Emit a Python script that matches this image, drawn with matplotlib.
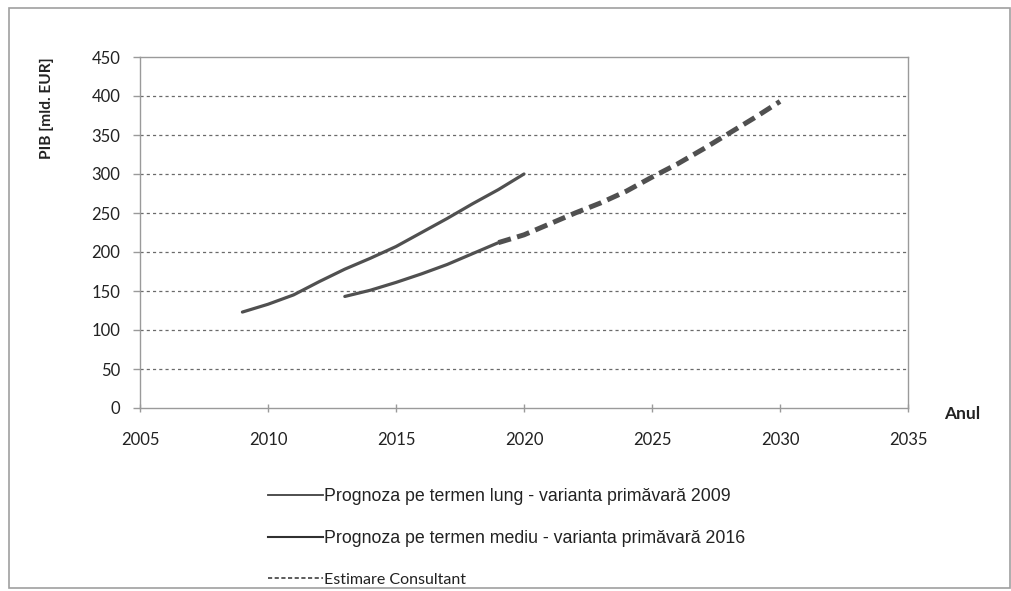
import numpy as np
import matplotlib
matplotlib.use("Agg")
import matplotlib.pyplot as plt
from matplotlib.lines import Line2D
from matplotlib.patches import Rectangle

# GDP forecasts, bn EUR
years_long = [2009, 2010, 2011, 2012, 2013, 2014, 2015, 2016, 2017, 2018, 2019, 2020]
pib_long = [123, 133, 145, 162, 178, 192, 207, 225, 243, 262, 280, 300]

years_mediu = [2013, 2014, 2015, 2016, 2017, 2018, 2019]
pib_mediu = [143, 151, 161, 172, 184, 198, 212]

years_consult = [2019, 2020, 2021, 2022, 2023, 2024, 2025, 2026, 2027, 2028, 2029, 2030]
pib_consult = [212, 222, 236, 250, 263, 278, 296, 313, 332, 352, 372, 393]

legend_labels = [
    "Prognoza pe termen lung - varianta primăvară 2009",
    "Prognoza pe termen mediu - varianta primăvară 2016",
    "Estimare Consultant",
]

x_ticks = [2005, 2010, 2015, 2020, 2025, 2030, 2035]
y_ticks = [0, 50, 100, 150, 200, 250, 300, 350, 400, 450]

W, H = 1012, 591
fig = plt.figure(figsize=(W / 100, H / 100), dpi=100)
ax = fig.add_axes([140 / W, 1 - 408 / H, (908 - 140) / W, (408 - 57) / H])

line_col = "#505050"
ax.plot(years_long, pib_long, color=line_col, lw=2.3, solid_capstyle="round", zorder=5)
ax.plot(years_mediu, pib_mediu, color=line_col, lw=2.3, solid_capstyle="round", zorder=5)
ax.plot(years_consult, pib_consult, color=line_col, lw=3.6, dashes=(2.6, 1.3), zorder=5)

ax.set_xlim(2005, 2035)
ax.set_ylim(0, 450)
ax.set_xticks(x_ticks)
ax.set_yticks(y_ticks)

# dashed horizontal gridlines between the ends
for v in y_ticks[1:-1]:
    ax.axhline(v, color="#6a6a6a", lw=0.9, dashes=(2.5, 2.5), zorder=1)

for s in ax.spines.values():
    s.set_color("#9a9a9a")
    s.set_linewidth(1.0)

ax.tick_params(axis="y", direction="out", length=5, width=1, color="#9a9a9a", pad=9)
ax.tick_params(axis="x", direction="inout", length=6, width=1, color="#9a9a9a", pad=14)
for lbl in ax.get_xticklabels() + ax.get_yticklabels():
    lbl.set_fontfamily("Lato")
    lbl.set_fontsize(12)
    lbl.set_color("#222222")

fig.text(47 / W, 1 - 108 / H, "PIB [mld. EUR]", rotation=90, ha="center", va="center",
         family="Lato", fontweight="bold", fontsize=11.2, color="#222222")
fig.text(962 / W, 1 - 414 / H, "Anul", ha="center", va="center",
         family="Lato", fontweight="bold", fontsize=12.5, color="#222222")

handles = [
    Line2D([], [], color="#404040", lw=1.3),
    Line2D([], [], color="#303030", lw=1.5),
    Line2D([], [], color="#404040", lw=1.2, dashes=(2.5, 1.5)),
]
leg = fig.legend(handles, legend_labels, loc="upper left",
                 bbox_to_anchor=(252 / W, 1 - 472 / H), frameon=False,
                 handlelength=3.1, handletextpad=0.05, labelspacing=1.4,
                 prop=dict(family="Liberation Sans", size=12.8))
texts = leg.get_texts()
for t in texts:
    t.set_color("#222222")
texts[2].set_fontfamily("Lato")
texts[2].set_fontsize(11.5)

# outer frame of the chart area
fig.patches.append(Rectangle((9 / W, 3 / H), (1010 - 9) / W, (583 - 3) / H,
                             transform=fig.transFigure, fill=False,
                             edgecolor="#a0a0a0", lw=1.2))

fig.savefig("out.png", dpi=100)
